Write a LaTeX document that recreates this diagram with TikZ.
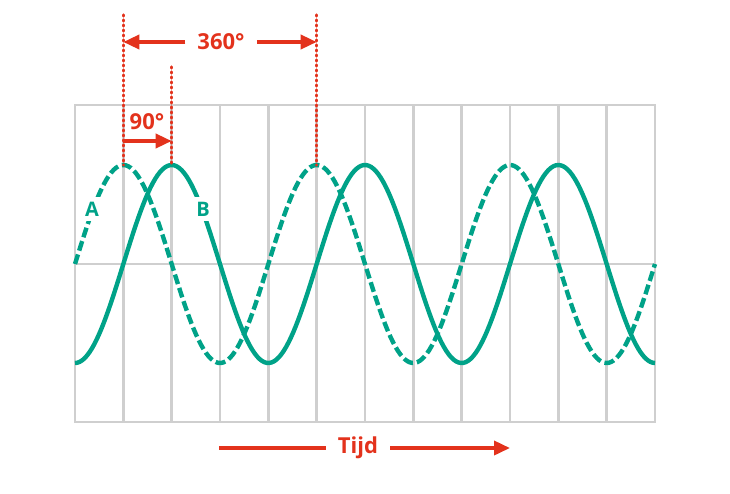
\documentclass[tikz,border=0pt]{standalone}
\usepackage{fontspec}
\setmainfont{Open Sans}
\usetikzlibrary{arrows.meta}
\definecolor{wavegreen}{HTML}{00A288}
\definecolor{markred}{HTML}{E3321C}
\definecolor{gridgray}{HTML}{CFCFCF}

\begin{document}
\begin{tikzpicture}[x=1pt,y=-1pt,
  gridline/.style={gridgray,line width=2.6pt},
  wave/.style={wavegreen,line width=4.4pt},
  guide/.style={markred,line width=3.2pt,line cap=round,dash pattern=on 1pt off 4pt},
  span/.style={markred,line width=3.6pt,-{Triangle[length=16pt,width=14pt]}},
  redlabel/.style={markred,font=\bfseries\fontsize{22}{22}\selectfont,inner xsep=12pt},
  curvelabel/.style={wavegreen,fill=white,font=\bfseries\fontsize{20}{20}\selectfont,inner xsep=3pt,inner ysep=5pt}]
  \useasboundingbox (0,0) rectangle (730,493);
  % grid
  \foreach \gx in {1,...,11}
    \draw[gridline] ({75+\gx*48.333},105) -- ({75+\gx*48.333},422);
  \draw[gridline] (75,264) -- (655,264);
  \draw[gridline] (75,105) rectangle (655,422);
  % waves A and B
  \draw[wave,dash pattern=on 10pt off 4pt] plot[domain=75:655,samples=240] (\x,{264-99*sin((\x-75)*1.862069)});
  \draw[wave] plot[domain=75:655,samples=240] (\x,{264+99*cos((\x-75)*1.862069)});
  % peaks and guide lines
  \coordinate (peakA1) at (123.3,165);
  \coordinate (peakB1) at (171.7,165);
  \coordinate (peakA2) at (316.7,165);
  \coordinate (topA1) at (123.3,15);
  \coordinate (topB1) at (171.7,67);
  \coordinate (topA2) at (316.7,15);
  \draw[guide] (topA1) -- (peakA1);
  \draw[guide] (topB1) -- (peakB1);
  \draw[guide] (topA2) -- (peakA2);
  % 360 degrees
  \node[redlabel] (fullturn) at (221,42) {360°};
  \draw[span] (fullturn.west) -- (fullturn.west -| topA1);
  \draw[span] (fullturn.east) -- (fullturn.east -| topA2);
  % 90 degrees
  \node[redlabel] (quarter) at (147,122) {90°};
  \coordinate (qstart) at (123.3,141);
  \coordinate (qend) at (171.7,141);
  \draw[span] (qstart) -- (qend);
  % time axis
  \node[redlabel] (time) at (358,448) {Tijd};
  \coordinate (tstart) at (219,448);
  \coordinate (tend) at (510,448);
  \draw[markred,line width=3.6pt] (tstart) -- (time.west);
  \draw[span] (time.east) -- (tend);
  % curve names
  \node[curvelabel] (labA) at (92,209) {A};
  \node[curvelabel] (labB) at (203,209) {B};
\end{tikzpicture}
\end{document}
